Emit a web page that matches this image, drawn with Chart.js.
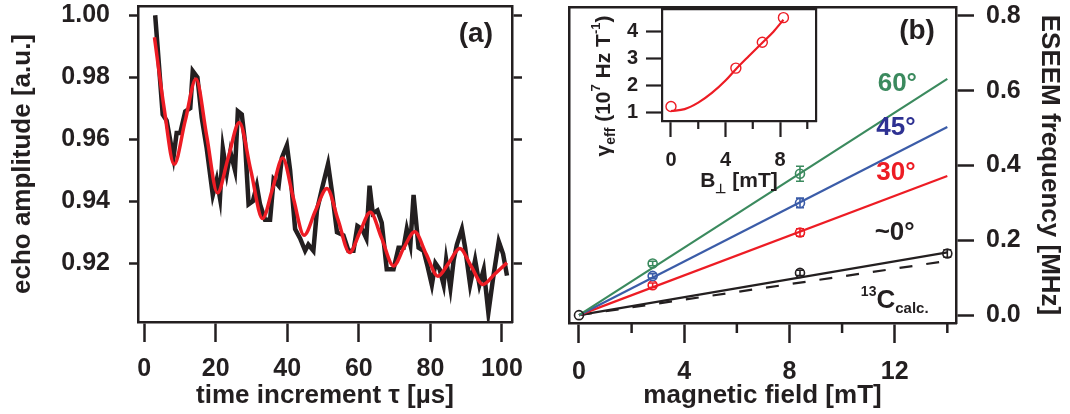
<!DOCTYPE html>
<html>
<head>
<meta charset="utf-8">
<script src="https://cdn.jsdelivr.net/npm/chart.js@4.4.1/dist/chart.umd.min.js"></script>
<style>
  body { margin: 0; background: #fff; }
  #page { position: relative; width: 1070px; height: 414px; overflow: hidden; }
  canvas { position: absolute; top: 0; }
  #echo { left: 0; }
  #eseem { left: 540px; }
  #inset { left: 560px; }
</style>
</head>
<body>
<div id="page">
  <canvas id="echo" width="540" height="414"></canvas>
  <canvas id="eseem" width="530" height="414"></canvas>
  <canvas id="inset" width="270" height="200"></canvas>
</div>
<script>
// ---- panel (a): echo decay ----
const echoTime = [3.1, 5.2, 6.3, 8.2, 9.1, 10.1, 11.5, 12.9, 13.6, 14.9, 16.1, 17.5, 19.2, 20.3, 21.2, 22.0, 23.1, 24.1, 25.4, 26.2,
  27.3, 28.2, 29.2, 30.4, 31.5, 32.4, 33.8, 35.2, 36.2, 37.6, 38.5, 39.9, 40.8, 42.2, 43.6, 45.0, 45.9, 47.3, 48.3, 49.7,
  51.4, 52.5, 53.9, 55.7, 57.1, 58.5, 59.6, 60.9, 62.1, 63.0, 63.9, 65.2, 66.4, 67.8, 69.7, 71.1, 72.5, 73.4, 74.4, 75.3,
  76.7, 78.1, 79.2, 80.4, 81.4, 82.6, 83.7, 84.4, 85.6, 86.5, 87.4, 88.8, 89.7, 91.1, 92.5, 93.7, 94.9, 96.2, 97.5, 99.1,
  100.3, 101.4];
const echoAmp = [1.000, 0.968, 0.966, 0.954, 0.962, 0.962, 0.969, 0.970, 0.982, 0.980, 0.967, 0.957, 0.942, 0.947, 0.941, 0.957, 0.949, 0.956, 0.950, 0.969,
  0.968, 0.959, 0.939, 0.940, 0.945, 0.939, 0.934, 0.934, 0.947, 0.945, 0.954, 0.958, 0.950, 0.931, 0.928, 0.924, 0.926, 0.924, 0.937, 0.944,
  0.952, 0.943, 0.930, 0.929, 0.924, 0.924, 0.932, 0.931, 0.928, 0.945, 0.936, 0.937, 0.933, 0.918, 0.918, 0.925, 0.925, 0.931, 0.926, 0.942,
  0.925, 0.924, 0.919, 0.913, 0.920, 0.918, 0.913, 0.921, 0.912, 0.921, 0.926, 0.931, 0.925, 0.913, 0.921, 0.913, 0.918, 0.904, 0.915, 0.927,
  0.923, 0.916];
const fitTime = [2.9, 5.6, 8.4, 11.5, 14.5, 17.5, 20.5, 23.5, 26.6, 29.8, 33.1, 35.9, 38.7, 41.7, 44.7, 47.9, 51.1,
  54.2, 57.4, 60.3, 63.2, 66.4, 69.7, 72.6, 75.6, 78.8, 82.1, 85.1, 88.2, 91.4, 94.7, 98.0, 101.4];
const fitAmp = [0.9929, 0.970, 0.9519, 0.966, 0.9794, 0.961, 0.9427, 0.954, 0.9654, 0.950, 0.9344, 0.944, 0.9539, 0.941, 0.9290, 0.937, 0.9441,
  0.934, 0.9234, 0.930, 0.9364, 0.928, 0.9191, 0.925, 0.9301, 0.923, 0.9158, 0.920, 0.9247, 0.919, 0.9131, 0.9165, 0.9201];
const echoXTicks = [0, 20, 40, 60, 80, 100];
const echoYTicks = [0.92, 0.94, 0.96, 0.98, 1.00];

// ---- panel (b): ESEEM frequency vs field ----
const fieldTicks = [0, 4, 8, 12];
const fieldMinor = [2, 6, 10, 14];
const freqTicks = [0, 0.2, 0.4, 0.6, 0.8];
const fitField = [0, 14];
const fit60 = [0, 0.632];
const fit45 = [0, 0.503];
const fit30 = [0, 0.372];
const fit0 = [0, 0.168];
const calc13C = [0, 0.145];
const measField = [2.8, 8.4];
const meas60 = [0.138, 0.378];
const err60 = [0.006, 0.02];
const meas45 = [0.105, 0.300];
const err45 = [0.006, 0.013];
const meas30 = [0.080, 0.221];
const err30 = [0.006, 0.01];
const meas0Field = [0, 8.4, 14];
const meas0 = [0, 0.113, 0.165];
const err0 = [0, 0.007, 0.01];

// ---- inset: gamma_eff vs B_perp ----
const bPerp = [0, 4.76, 6.7, 8.25];
const gammaEff = [1.24, 2.66, 3.62, 4.53];
const curveB = [0, 1, 2, 3, 4, 4.76, 5.7, 6.7, 7.5, 8.25];
const curveGamma = [1.07, 1.14, 1.38, 1.74, 2.2, 2.62, 3.1, 3.6, 4.0, 4.45];
const insetXTicks = [0, 4, 8];
const insetXMinor = [2, 6, 10];
const insetYTicks = [1, 2, 3, 4];

const FONT = "'Liberation Sans', Arial, sans-serif";
const INK = '#231f20';
const GREEN = '#3b8a5e', BLUE = '#3b5ca8', NAVY = '#2e3192', RED = '#ed1c24';

const pts = (xs, ys) => xs.map((x, i) => ({ x: x, y: ys[i] }));
const fixTicks = vals => s => { s.ticks = vals.map(v => ({ value: v })); };
// fixed axis thickness, and no extra room for overhanging labels
const fitTo = size => s => {
  if (s.isHorizontal()) s.height = size; else s.width = size;
  s.paddingTop = s.paddingBottom = s.paddingLeft = s.paddingRight = 0;
};

// draws text made of pieces with their own size / raise
function drawRich(ctx, parts, x, y, rot) {
  ctx.save();
  ctx.translate(x, y);
  ctx.rotate(rot || 0);
  let w = 0;
  parts.forEach(p => { ctx.font = 'bold ' + p.size + 'px ' + FONT; w += ctx.measureText(p.t).width; });
  let cx = -w / 2;
  ctx.textBaseline = 'alphabetic';
  ctx.textAlign = 'left';
  parts.forEach(p => {
    ctx.font = 'bold ' + p.size + 'px ' + FONT;
    ctx.fillStyle = p.color || INK;
    ctx.fillText(p.t, cx, p.dy || 0);
    cx += ctx.measureText(p.t).width;
  });
  ctx.restore();
}

const decor = {
  id: 'decor',
  afterDatasetsDraw(chart, args, opts) {
    const ctx = chart.ctx;
    ctx.save();
    (opts.minor || []).forEach(m => {
      const s = chart.scales[m.axis];
      ctx.strokeStyle = INK;
      ctx.lineWidth = m.width;
      m.values.forEach(v => {
        const px = s.getPixelForValue(v);
        ctx.beginPath();
        ctx.moveTo(px, s.top);
        ctx.lineTo(px, s.top + m.length);
        ctx.stroke();
      });
    });
    chart.data.datasets.forEach((ds, i) => {
      if (!ds.errors) return;
      const ys = chart.scales[ds.yAxisID || 'y'];
      const meta = chart.getDatasetMeta(i);
      ctx.strokeStyle = ds.borderColor;
      ctx.lineWidth = 1.6;
      ds.data.forEach((p, j) => {
        const e = ds.errors[j];
        if (!e) return;
        const px = meta.data[j].x;
        const y1 = ys.getPixelForValue(p.y - e), y2 = ys.getPixelForValue(p.y + e);
        ctx.beginPath();
        ctx.moveTo(px, y1); ctx.lineTo(px, y2);
        ctx.moveTo(px - 4, y1); ctx.lineTo(px + 4, y1);
        ctx.moveTo(px - 4, y2); ctx.lineTo(px + 4, y2);
        ctx.stroke();
      });
    });
    (opts.labels || []).forEach(l => {
      const x = chart.scales[l.xAxis || 'x'].getPixelForValue(l.x);
      const y = chart.scales[l.yAxis || 'y'].getPixelForValue(l.y);
      drawRich(ctx, l.parts, x, y, 0);
    });
    if (opts.extra) opts.extra(chart, ctx);
    ctx.restore();
  }
};

const frameAxis = (pos, size, w) => ({
  position: pos,
  afterFit: fitTo(size),
  grid: { drawOnChartArea: false, drawTicks: false },
  border: { display: true, width: w || 2.5, color: INK },
  ticks: { display: false }
});

const baseOpts = {
  responsive: false,
  animation: false,
  events: [],
};

// ---------- panel (a) ----------
new Chart(document.getElementById('echo'), {
  type: 'scatter',
  data: {
    datasets: [
      { data: pts(fitTime, fitAmp), showLine: true, borderColor: RED, borderWidth: 3.5, pointRadius: 0, cubicInterpolationMode: 'monotone' },
      { data: pts(echoTime, echoAmp), showLine: true, borderColor: INK, borderWidth: 4.5, pointRadius: 0, tension: 0 }
    ]
  },
  options: Object.assign({}, baseOpts, {
    layout: { padding: 0 },
    plugins: {
      legend: { display: false }, tooltip: { enabled: false },
      decor: { labels: [{ x: 92.7, y: 0.9915, parts: [{ t: '(a)', size: 28 }] }] }
    },
    scales: {
      x: {
        type: 'linear', position: 'bottom', min: -1.7, max: 102.8,
        afterBuildTicks: fixTicks(echoXTicks),
        afterFit: fitTo(92),
        grid: { drawOnChartArea: false, tickLength: 20, tickWidth: 2.5, tickColor: INK },
        border: { display: true, width: 2.5, color: INK },
        ticks: { color: INK, font: { family: FONT, size: 25, weight: 'bold' }, padding: 12, maxRotation: 0, autoSkip: false },
        title: { display: true, text: 'time increment τ [µs]', color: INK, font: { family: FONT, size: 26, weight: 'bold' }, padding: { top: 0, bottom: 3 } }
      },
      y: {
        type: 'linear', position: 'left', min: 0.901, max: 1.003,
        afterBuildTicks: fixTicks(echoYTicks),
        afterFit: fitTo(138),
        grid: { drawOnChartArea: false, tickLength: 9, tickWidth: 2.5, tickColor: INK },
        border: { display: true, width: 2.5, color: INK },
        ticks: { color: INK, font: { family: FONT, size: 25, weight: 'bold' }, padding: 19, autoSkip: false, callback: v => v.toFixed(2) },
        title: { display: true, text: 'echo amplitude [a.u.]', color: INK, font: { family: FONT, size: 26, weight: 'bold' }, padding: { top: 7, bottom: 0 } }
      },
      y2: {
        type: 'linear', position: 'right', min: 0.901, max: 1.003,
        afterBuildTicks: fixTicks(echoYTicks),
        afterFit: fitTo(28),
        grid: { drawOnChartArea: false, tickLength: 10, tickWidth: 2.5, tickColor: INK },
        border: { display: true, width: 2.5, color: INK },
        ticks: { display: false }
      },
      x2: frameAxis('top', 6)
    }
  }),
  plugins: [decor]
});

// ---------- panel (b) ----------
const lineSet = (ys, color, dash) => ({
  data: pts(fitField, ys), showLine: true, borderColor: color, borderWidth: 2.2, pointRadius: 0, borderDash: dash || []
});
const markSet = (xs, ys, errs, color) => ({
  data: pts(xs, ys), showLine: false, errors: errs, borderColor: color, backgroundColor: 'rgba(0,0,0,0)',
  pointRadius: 4.5, pointBorderWidth: 1.6, pointStyle: 'circle'
});

// first entry is drawn on top
new Chart(document.getElementById('eseem'), {
  type: 'scatter',
  data: {
    datasets: [
      markSet(measField, meas60, err60, GREEN),
      markSet(measField, meas45, err45, BLUE),
      markSet(measField, meas30, err30, RED),
      markSet(meas0Field, meas0, err0, INK),
      lineSet(fit60, GREEN),
      lineSet(fit45, BLUE),
      lineSet(fit30, RED),
      lineSet(fit0, INK),
      lineSet(calc13C, INK, [13, 14])
    ]
  },
  options: Object.assign({}, baseOpts, {
    layout: { padding: { left: 29 } },
    plugins: {
      legend: { display: false }, tooltip: { enabled: false },
      decor: {
        minor: [{ axis: 'x', values: fieldMinor, length: 10, width: 2.5 }],
        labels: [
          { x: 12.1, y: 0.600, parts: [{ t: '60°', size: 26, color: GREEN }] },
          { x: 12.05, y: 0.482, parts: [{ t: '45°', size: 26, color: NAVY }] },
          { x: 12.05, y: 0.361, parts: [{ t: '30°', size: 26, color: RED }] },
          { x: 12.0, y: 0.201, parts: [{ t: '~0°', size: 26 }] },
          { x: 12.85, y: 0.739, parts: [{ t: '(b)', size: 28 }] },
          { x: 12.0, y: 0.020, parts: [{ t: '13', size: 14, dy: -12 }, { t: 'C', size: 26 }, { t: 'calc.', size: 15, dy: 5 }] }
        ]
      }
    },
    scales: {
      x: {
        type: 'linear', position: 'bottom', min: -0.38, max: 14.33,
        afterBuildTicks: fixTicks(fieldTicks),
        afterFit: fitTo(91),
        grid: { drawOnChartArea: false, tickLength: 20, tickWidth: 2.5, tickColor: INK },
        border: { display: true, width: 2.5, color: INK },
        ticks: { color: INK, font: { family: FONT, size: 25, weight: 'bold' }, padding: 14, maxRotation: 0, autoSkip: false },
        title: { display: true, text: 'magnetic field [mT]', color: INK, font: { family: FONT, size: 26, weight: 'bold' }, padding: { top: 0, bottom: 3 } }
      },
      y: {
        type: 'linear', position: 'right', min: -0.021, max: 0.824,
        afterBuildTicks: fixTicks(freqTicks),
        afterFit: fitTo(114),
        grid: { drawOnChartArea: false, tickLength: 18, tickWidth: 2.5, tickColor: INK },
        border: { display: true, width: 2.5, color: INK },
        ticks: { color: INK, font: { family: FONT, size: 25, weight: 'bold' }, padding: 12, autoSkip: false, callback: v => v.toFixed(1) },
        title: { display: true, text: 'ESEEM frequency [MHz]', color: INK, font: { family: FONT, size: 26, weight: 'bold' }, padding: { top: 5, bottom: 0 } }
      },
      yL: frameAxis('left', 0),
      x2: frameAxis('top', 7)
    }
  }),
  plugins: [decor]
});

// ---------- inset ----------
new Chart(document.getElementById('inset'), {
  type: 'scatter',
  data: {
    datasets: [
      { data: pts(bPerp, gammaEff), showLine: false, borderColor: RED, backgroundColor: 'rgba(0,0,0,0)', pointRadius: 5, pointBorderWidth: 1.4 },
      { data: pts(curveB, curveGamma), showLine: true, borderColor: RED, borderWidth: 2.2, pointRadius: 0, cubicInterpolationMode: 'monotone' }
    ]
  },
  options: Object.assign({}, baseOpts, {
    layout: { padding: { right: 14 } },
    plugins: {
      legend: { display: false }, tooltip: { enabled: false },
      decor: {
        minor: [{ axis: 'x', values: insetXMinor, length: 8, width: 2.2 }],
        extra: (chart, ctx) => {
          const a = chart.chartArea;
          drawRich(ctx, [{ t: 'B', size: 21 }, { t: '⊥', size: 13, dy: 6 }, { t: ' [mT]', size: 21 }],
            (a.left + a.right) / 2, a.bottom + 66, 0);
          drawRich(ctx, [{ t: 'γ', size: 21 }, { t: 'eff', size: 14, dy: 5 }, { t: ' (10', size: 21 }, { t: '7', size: 13, dy: -10 },
            { t: ' Hz T', size: 21 }, { t: '-1', size: 13, dy: -10 }, { t: ')', size: 21 }],
            a.left - 52, a.top + 77, -Math.PI / 2);
        }
      }
    },
    scales: {
      x: {
        type: 'linear', position: 'bottom', min: -0.66, max: 10.64,
        afterBuildTicks: fixTicks(insetXTicks),
        afterFit: fitTo(79),
        grid: { drawOnChartArea: false, tickLength: 16, tickWidth: 2.2, tickColor: INK },
        border: { display: true, width: 2.2, color: INK },
        ticks: { color: INK, font: { family: FONT, size: 20, weight: 'bold' }, padding: 11, maxRotation: 0, autoSkip: false }
      },
      y: {
        type: 'linear', position: 'left', min: 0.70, max: 4.85,
        afterBuildTicks: fixTicks(insetYTicks),
        afterFit: fitTo(102),
        grid: { drawOnChartArea: false, tickLength: 16, tickWidth: 2.2, tickColor: INK },
        border: { display: true, width: 2.2, color: INK },
        ticks: { color: INK, font: { family: FONT, size: 20, weight: 'bold' }, padding: 8, autoSkip: false }
      },
      y2: frameAxis('right', 0, 2.2),
      x2: frameAxis('top', 9, 2.2)
    }
  }),
  plugins: [decor]
});
</script>
</body>
</html>
